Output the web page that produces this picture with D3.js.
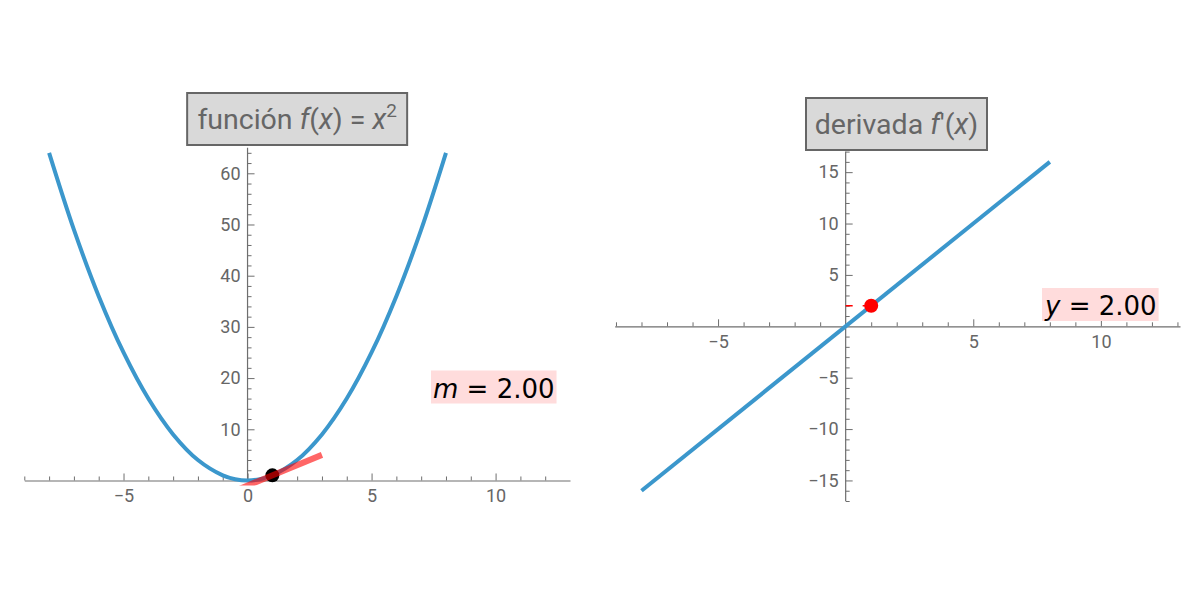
<!DOCTYPE html>
<html>
<head>
<meta charset="utf-8">
<script src="https://cdn.jsdelivr.net/npm/d3@7"></script>
<style>
	body { margin: 0; background: #fff; }
	svg text { font-family: Roboto, "DejaVu Sans", sans-serif; }
</style>
</head>
<body>
<div id="chart"></div>
<script>
// values
var parabolaX = [-8, -7, -6, -5, -4, -3, -2, -1, -0.5, 0, 0.5, 1, 2, 3, 4, 5, 6, 7, 8];
var parabolaY = [64, 49, 36, 25, 16, 9, 4, 1, 0.25, 0, 0.25, 1, 4, 9, 16, 25, 36, 49, 64];
var tangentX = [-1, 3];
var tangentY = [-3, 5];
var pointX = 1, pointY = 1;
var derivX = [-8, 8];
var derivY = [-16, 16];
var derivPointX = 1, derivPointY = 2;
var leftXTicks = [-5, 0, 5, 10];
var leftYTicks = [10, 20, 30, 40, 50, 60];
var rightXTicks = [-5, 5, 10];
var rightYTicks = [-15, -10, -5, 5, 10, 15];
var slopeLabel = "2.00";
var valueLabel = "2.00";

var BLUE = "#3b97cc";
var AXIS = "#6e6e6e";
var TEXT = "#666";

var svg = d3.select("#chart").append("svg")
	.attr("width", 1200)
	.attr("height", 600);

var range = function(a, b, step) {
	var out = [];
	for(var v = a; v <= b + 1e-9; v += step) out.push(+v.toFixed(6));
	return out;
}

var drawAxes = function(_g, _x, _y, _xTicks, _yTicks, _xMinor, _yMinor, _yBottom) {
	var y0 = _y(0), x0 = _x(0);

	// minor ticks
	_g.append("g").attr("transform", "translate(0," + y0 + ")")
	.call(d3.axisBottom(_x).tickValues(_xMinor).tickSize(-4).tickFormat(""))
	.call(function(g) { g.select(".domain").remove(); });
	_g.append("g").attr("transform", "translate(" + x0 + ",0)")
	.call(d3.axisLeft(_y).tickValues(_yMinor).tickSize(-4).tickFormat(""))
	.call(function(g) { g.select(".domain").remove(); });

	// major ticks + labels
	_g.append("g").attr("class", "xaxis").attr("transform", "translate(0," + y0 + ")")
	.call(d3.axisBottom(_x).tickValues(_xTicks).tickSize(-7).tickPadding(9).tickSizeOuter(0));
	_g.append("g").attr("class", "yaxis").attr("transform", "translate(" + x0 + ",0)")
	.call(d3.axisLeft(_y).tickValues(_yTicks).tickSize(-7).tickPadding(7).tickSizeOuter(0))
	.call(function(g) { g.select(".domain").remove(); });

	// y axis line
	_g.append("line")
	.attr("x1", x0).attr("x2", x0)
	.attr("y1", _y.range()[1]).attr("y2", _yBottom)
	.attr("stroke", AXIS).attr("stroke-width", 1.2);

	_g.selectAll(".tick line").attr("stroke", AXIS).attr("stroke-width", 1);
	_g.selectAll(".domain").attr("stroke", AXIS).attr("stroke-width", 1.2);
	_g.selectAll(".tick text")
	.style("font-size", "18px")
	.style("font-family", "Roboto, sans-serif")
	.attr("fill", TEXT);
}

var titleBox = function(_g, _cx, _top, _w, _h, _build) {
	_g.append("rect")
	.attr("x", _cx - _w / 2).attr("y", _top)
	.attr("width", _w).attr("height", _h)
	.attr("fill", "#d9d9d9")
	.attr("stroke", "#666")
	.attr("stroke-width", 2);
	var t = _g.append("text")
	.attr("x", _cx).attr("y", _top + _h / 2 + 10)
	.attr("text-anchor", "middle")
	.style("font-size", "28.5px")
	.attr("fill", TEXT);
	_build(t);
}

var valueBox = function(_g, _x, _baseline, _var, _val) {
	var t = _g.append("text")
	.attr("x", _x).attr("y", _baseline)
	.style("font-family", "'DejaVu Sans', sans-serif")
	.style("font-size", "26px")
	.attr("fill", "#000");
	t.append("tspan").style("font-style", "italic").text(_var);
	t.append("tspan").text(" = " + _val);
	var b = t.node().getBBox();
	_g.insert("rect", function() { return t.node(); })
	.attr("x", b.x - 2).attr("y", _baseline - 27)
	.attr("width", b.width + 4).attr("height", 33)
	.attr("fill", "#ffdcdc");
}

// ---------- left: f(x) = x^2 ----------
var xL = d3.scaleLinear().domain([-9, 13]).range([24.3, 570]);
var yL = d3.scaleLinear().domain([-1, 65]).range([485.6, 147.7]);

var left = svg.append("g");
left.append("clipPath").attr("id", "clipL")
.append("rect")
.attr("x", xL.range()[0]).attr("y", yL.range()[1])
.attr("width", xL.range()[1] - xL.range()[0])
.attr("height", yL.range()[0] - yL.range()[1]);

drawAxes(left, xL, yL, leftXTicks, leftYTicks,
	range(-9, 12, 1).filter(function(d) { return d % 5 !== 0; }),
	range(2, 64, 2).filter(function(d) { return d % 10 !== 0; }),
	yL(0));

var parabola = parabolaX.map(function(d, i) { return [d, parabolaY[i]]; });
left.append("path")
.datum(parabola)
.attr("fill", "none")
.attr("stroke", BLUE)
.attr("stroke-width", 4)
.attr("d", d3.line().x(function(d) { return xL(d[0]); }).y(function(d) { return yL(d[1]); }).curve(d3.curveCatmullRom.alpha(0.5)));

left.append("circle")
.attr("cx", xL(pointX)).attr("cy", yL(pointY))
.attr("r", 7).attr("fill", "#000");

left.append("line")
.attr("clip-path", "url(#clipL)")
.attr("x1", xL(tangentX[0])).attr("y1", yL(tangentY[0]))
.attr("x2", xL(tangentX[1])).attr("y2", yL(tangentY[1]))
.attr("stroke", "#ff0000")
.attr("stroke-opacity", 0.6)
.attr("stroke-width", 6);

titleBox(left, xL(2), 93, 220, 52, function(t) {
	t.append("tspan").text("función ");
	t.append("tspan").style("font-style", "italic").text("f");
	t.append("tspan").text("(");
	t.append("tspan").style("font-style", "italic").text("x");
	t.append("tspan").text(") = ");
	t.append("tspan").style("font-style", "italic").text("x");
	t.append("tspan").attr("dy", -12).style("font-size", "19px").text("2");
});

valueBox(left, 433, 397.5, "m", slopeLabel);

// ---------- right: f'(x) ----------
var xR = d3.scaleLinear().domain([-9.05, 13.1]).range([614.7, 1180]);
var yR = d3.scaleLinear().domain([-17, 17]).range([501, 151.6]);

var right = svg.append("g");
drawAxes(right, xR, yR, rightXTicks, rightYTicks,
	range(-9, 13, 1).filter(function(d) { return d % 5 !== 0; }),
	range(-17, 17, 1).filter(function(d) { return d % 5 !== 0; }),
	yR.range()[0]);

right.append("line")
.attr("x1", xR(derivX[0])).attr("y1", yR(derivY[0]))
.attr("x2", xR(derivX[1])).attr("y2", yR(derivY[1]))
.attr("stroke", BLUE)
.attr("stroke-width", 4);

right.append("line")
.attr("x1", xR(0)).attr("y1", yR(derivPointY))
.attr("x2", xR(derivPointX)).attr("y2", yR(derivPointY))
.attr("stroke", "#ff0000")
.attr("stroke-width", 1.5)
.attr("stroke-dasharray", "7,10");

right.append("circle")
.attr("cx", xR(derivPointX)).attr("cy", yR(derivPointY))
.attr("r", 7).attr("fill", "#ff0000");

titleBox(right, 896.5, 98, 181, 52, function(t) {
	t.append("tspan").text("derivada ");
	t.append("tspan").style("font-style", "italic").text("f");
	t.append("tspan").text("′(");
	t.append("tspan").style("font-style", "italic").text("x");
	t.append("tspan").text(")");
});

valueBox(right, 1045, 315, "y", valueLabel);
</script>
</body>
</html>
